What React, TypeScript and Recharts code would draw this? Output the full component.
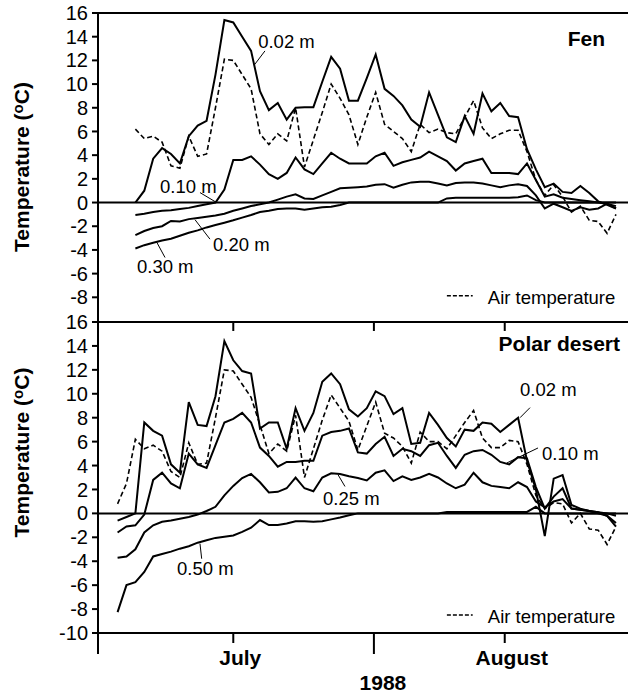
import { LineChart, Line, XAxis, YAxis, ReferenceLine, ReferenceDot } from "recharts";

const FONT = "'Liberation Sans', Arial, Helvetica, sans-serif";

// days since 1 July 1988
const days = [
  2, 3, 4, 5, 6, 7, 8, 9, 10, 11, 12, 13, 14, 15, 16, 17, 18, 19, 20, 21,
  22, 23, 24, 25, 26, 27, 28, 29, 30, 31, 32, 33, 34, 35, 36, 37, 38, 39, 40,
  41, 42, 43, 44, 45, 46, 47, 48, 49, 50, 51, 52, 53, 54, 55, 56, 57, 58,
];

// Fen
const fenAir = [
  null, null, 6.2, 5.4, 5.6, 5.1, 3.1, 2.9, 5.6, 3.9,
  4.1, 8.0, 12.1, 12.0, 10.8, 9.6, 5.8, 4.9, 5.8, 5.2,
  8.0, 3.0, 5.3, 7.6, 10.0, 8.8, 7.4, 4.9, 7.2, 9.3,
  6.6, 6.0, 5.4, 4.3, 6.6, 5.9, 6.2, 5.9, 5.8, 7.2,
  8.6, 6.3, 5.4, 5.8, 6.1, 6.1, 4.3, 1.9, 0.6, 1.5,
  0.5, -0.8, -0.3, -1.5, -1.6, -2.6, -1.0,
];
const fen002 = [
  null, null, 0.0, 1.0, 3.7, 4.6, 4.1, 3.3, 5.6, 6.5,
  6.9, 10.8, 15.4, 15.2, 14.0, 12.8, 9.4, 7.8, 8.4, 7.0,
  8.0, 8.05, 8.05, 10.2, 12.3, 11.3, 8.6, 8.6, 10.5, 12.5,
  9.6, 9.0, 8.2, 7.0, 6.4, 9.3, 7.4, 5.5, 5.1, 7.3,
  5.8, 9.2, 7.7, 8.4, 7.3, 7.2, 4.5, 2.8, 1.3, 1.6,
  0.9, 0.8, 1.4, 0.8, 0.1, -0.2, -0.5,
];
const fen010 = [
  null, null, -1.05, -0.95, -0.8, -0.7, -0.65, -0.55, -0.45, -0.3,
  -0.15, 0.0, 1.1, 3.6, 3.6, 3.9, 3.2, 2.4, 2.0, 2.5,
  3.8, 2.8, 2.4, 3.3, 4.2, 3.7, 3.3, 3.3, 3.3, 3.9,
  4.2, 3.1, 3.4, 3.6, 3.8, 4.3, 3.9, 3.5, 2.7, 3.3,
  3.5, 3.7, 2.5, 2.5, 2.5, 2.4, 3.3, 1.9, 0.5, 0.7,
  0.4, 0.3, 0.2, 0.1, 0.0, -0.1, -0.5,
];
const fen020 = [
  null, null, -2.75, -2.4, -2.15, -2.0, -1.55, -1.6, -1.4, -1.3,
  -1.2, -1.1, -0.95, -0.7, -0.5, -0.3, -0.15, 0.0, 0.25, 0.5,
  0.7, 0.35, 0.3, 0.6, 0.9, 1.2, 1.25, 1.3, 1.35, 1.5,
  1.55, 1.25, 1.5, 1.7, 1.75, 1.75, 1.6, 1.45, 1.65, 1.7,
  1.7, 1.6, 1.45, 1.3, 1.45, 1.55, 1.4, 0.6, -0.5, -0.1,
  -0.4, -0.7, -0.4, -0.6, -0.5, -0.1, -0.3,
];
const fen030 = [
  null, null, -3.88, -3.6, -3.4, -3.2, -3.05, -2.8, -2.55, -2.35,
  -2.1, -1.9, -1.7, -1.5, -1.27, -1.05, -0.8, -0.7, -0.55, -0.5,
  -0.5, -0.6, -0.5, -0.4, -0.35, -0.2, 0.0, 0.0, 0.0, 0.0,
  0.0, 0.0, 0.0, 0.0, 0.0, 0.0, 0.0, 0.35, 0.4, 0.4,
  0.4, 0.4, 0.4, 0.4, 0.4, 0.45, 0.6, 0.2, 0.0, 0.0,
  0.0, 0.0, 0.0, 0.0, 0.0, 0.0, 0.0,
];

// Polar desert
const pdAir = [
  0.8, 2.5, 6.2, 5.4, 5.7, 5.2, 3.5, 3.0, 5.9, 4.1,
  4.2, 8.0, 12.0, 11.9, 10.8, 9.7, 7.4, 5.0, 5.8, 5.2,
  8.2, 3.0, 5.4, 7.8, 9.9, 8.8, 7.7, 5.3, 7.3, 9.3,
  6.7, 6.3, 5.6, 4.2, 6.8, 6.0, 6.0, 5.4, 6.5, 7.6,
  8.6, 6.3, 5.5, 5.5, 6.1, 6.0, 4.1, 1.5, 0.4, 0.9,
  0.8, -0.8, 0.0, -1.3, -1.4, -2.6, -1.1,
];
const pd002 = [
  -0.6, -0.3, 0.0, 7.6, 6.9, 6.5, 4.1, 3.4, 9.3, 7.4,
  7.3, 9.8, 14.4, 12.8, 11.9, 11.7, 7.1, 7.6, 7.6, 5.4,
  8.8, 6.9, 8.4, 11.0, 11.7, 10.8, 8.7, 8.1, 8.8, 10.2,
  9.8, 8.3, 8.8, 5.8, 5.9, 8.4, 7.4, 6.3, 5.6, 7.0,
  6.9, 7.6, 7.5, 6.8, 7.4, 8.0, 4.4, 2.0, -1.9, 2.9,
  3.2, 0.7, 0.4, 0.2, 0.1, -0.2, -1.1,
];
const pd010 = [
  -1.6, -1.1, -1.0, -0.1, 2.8, 3.4, 2.5, 2.1, 5.0, 4.1,
  3.8, 5.7, 7.6, 7.9, 8.4, 7.6, 5.5, 4.8, 3.9, 4.3,
  4.3, 4.4, 4.4, 6.5, 6.8, 6.9, 7.1, 5.1, 5.0, 5.8,
  6.4, 4.8, 5.4, 5.2, 4.8, 5.7, 5.9, 4.8, 3.8, 4.9,
  5.2, 5.3, 4.9, 4.3, 4.1, 4.7, 4.6, 2.2, 0.4, 1.4,
  2.1, 0.4, 0.3, 0.2, 0.0, -0.2, -0.8,
];
const pd025 = [
  -3.7, -3.6, -3.0, -1.6, -1.0, -0.7, -0.6, -0.45, -0.3, -0.1,
  0.2, 0.55, 1.5, 2.3, 2.95, 3.3, 2.6, 1.75, 1.8, 2.1,
  3.0, 2.1, 1.85, 3.0, 3.35, 3.3, 3.1, 2.95, 2.75, 3.4,
  3.6, 2.7, 3.1, 2.8, 3.0, 3.3, 3.0, 2.5, 2.1, 2.4,
  3.4, 2.6, 2.3, 2.2, 2.1, 2.6, 2.2, 1.0, 0.5, 1.0,
  1.2, 0.4, 0.3, 0.2, 0.1, 0.0, -0.2,
];
const pd050 = [
  -8.25, -6.0, -5.75, -4.9, -3.6, -3.4, -3.2, -2.95, -2.75, -2.45,
  -2.25, -2.05, -1.95, -1.85, -1.55, -1.2, -0.56, -0.98, -0.98, -0.85,
  -0.65, -0.65, -0.7, -0.65, -0.5, -0.35, -0.15, 0.0, 0.0, 0.0,
  0.0, 0.0, 0.0, 0.0, 0.0, 0.0, 0.0, 0.12, 0.12, 0.12,
  0.12, 0.12, 0.12, 0.12, 0.12, 0.12, 0.12, 0.55, 0.0, 0.0,
  0.0, 0.0, 0.0, 0.0, 0.0, 0.0, 0.0,
];

const fenTicks = [-8, -6, -4, -2, 0, 2, 4, 6, 8, 10, 12, 14, 16];
const pdTicks = [-10, -8, -6, -4, -2, 0, 2, 4, 6, 8, 10, 12, 14, 16];
const xDomain = [-0.2, 59.35];
// month boundaries (long ticks) and mid-month ticks
const monthTicks = [-0.2, 15, 30.8, 45.5];
const monthLabels = ["", "July", "", "August"];

const fenRows = days.map((day, i) => ({
  day, air: fenAir[i], d002: fen002[i], d010: fen010[i], d020: fen020[i], d030: fen030[i],
}));
const pdRows = days.map((day, i) => ({
  day, air: pdAir[i], d002: pd002[i], d010: pd010[i], d025: pd025[i], d050: pd050[i],
}));

type Note = { text: string; x: number; y: number; from: [number, number]; to: [number, number] };

const fenNotes: Note[] = [
  { text: "0.02 m", x: 17.8, y: 13.05, from: [18.56, 12.8], to: [17.35, 11.6] },
  { text: "0.10 m", x: 6.77, y: 0.82, from: [11.26, 0.84], to: [13.13, 0] },
  { text: "0.20 m", x: 12.72, y: -4.08, from: [12.38, -3.09], to: [10.7, -1.45] },
  { text: "0.30 m", x: 4.18, y: -5.93, from: [7.33, -4.64], to: [6.4, -3.35] },
];
const pdNotes: Note[] = [
  { text: "0.02 m", x: 47.22, y: 9.82, from: [48.34, 8.84], to: [47.22, 8.0] },
  { text: "0.10 m", x: 49.69, y: 4.5, from: [49.24, 5.47], to: [45.72, 4.21] },
  { text: "0.25 m", x: 25.08, y: 0.73, from: [27.55, 2.25], to: [26.77, 3.23] },
  { text: "0.50 m", x: 8.68, y: -5.11, from: [11.45, -3.79], to: [11.26, -2.53] },
];

const textShape = (label: string, anchor: string, size: number, bold = false) => (p: any) => (
  <text
    x={p.cx}
    y={p.cy}
    textAnchor={anchor as any}
    fontSize={size}
    fontWeight={bold ? 700 : 400}
    fontFamily={FONT}
    fill="#000"
  >
    {label}
  </text>
);

const YTitle = (props: any) => {
  const vb = props.viewBox || { x: 0, y: 0, width: 98, height: 300 };
  const x = vb.x + 28.5;
  const y = vb.y + vb.height / 2 + (props.shift || 0);
  return (
    <text
      x={x}
      y={y}
      transform={`rotate(-90, ${x}, ${y})`}
      textAnchor="middle"
      fontSize={21}
      fontWeight={700}
      fontFamily={FONT}
      fill="#000"
    >
      Temperature (<tspan dy={-6} fontSize={15}>o</tspan>
      <tspan dy={6}>C)</tspan>
    </text>
  );
};

const MonthTick = (props: any) => {
  const { x, y, payload } = props;
  const i = monthTicks.indexOf(payload.value);
  const long = i === 0 || i === 2;
  return (
    <g>
      <line x1={x} y1={y} x2={x} y2={y + (long ? 21 : 10)} stroke="#000" strokeWidth={2} />
      {monthLabels[i] ? (
        <text x={x + 7} y={y + 32} textAnchor="middle" fontSize={21} fontWeight={700} fontFamily={FONT} fill="#000">
          {monthLabels[i]}
        </text>
      ) : null}
      {i === 2 ? (
        <text x={x + 9} y={y + 57} textAnchor="middle" fontSize={21} fontWeight={700} fontFamily={FONT} fill="#000">
          1988
        </text>
      ) : null}
    </g>
  );
};

const yTick = { fontSize: 20, fill: "#000", fontFamily: FONT };

const notesFor = (notes: Note[]) =>
  notes.flatMap((n) => [
    <ReferenceLine
      key={n.text + "-p"}
      segment={[{ x: n.from[0], y: n.from[1] }, { x: n.to[0], y: n.to[1] }]}
      stroke="#000"
      strokeWidth={1}
    />,
    <ReferenceDot key={n.text + "-t"} x={n.x} y={n.y} r={0} shape={textShape(n.text, "start", 18.5)} />,
  ]);

const legendFor = (lineY: number, textY: number) => [
  <ReferenceLine
    key="leg-l"
    segment={[{ x: 39.0, y: lineY }, { x: 41.9, y: lineY }]}
    stroke="#000"
    strokeWidth={1.5}
    strokeDasharray="4 2"
  />,
  <ReferenceDot key="leg-t" x={43.6} y={textY} r={0} shape={textShape("Air temperature", "start", 18.5)} />,
];

export default function App() {
  return (
    <div style={{ position: "absolute", left: 0, top: 0, width: 628, height: 698, background: "#fff" }}>
      <div style={{ position: "absolute", left: 0, top: 0 }}>
        <LineChart width={628} height={322} data={fenRows} margin={{ top: 13, right: 0, bottom: 1, left: 0 }}>
          <XAxis dataKey="day" type="number" domain={xDomain} hide />
          <YAxis
            type="number"
            domain={[-10, 16]}
            ticks={fenTicks}
            interval={0}
            width={98}
            tick={yTick}
            tickSize={6}
            tickMargin={4}
            axisLine={{ stroke: "#000", strokeWidth: 2 }}
            tickLine={{ stroke: "#000", strokeWidth: 2 }}
            label={<YTitle />}
          />
          <ReferenceLine y={16} stroke="#000" strokeWidth={2} />
          <ReferenceLine y={0} stroke="#000" strokeWidth={2} />
          <Line dataKey="air" stroke="#000" strokeWidth={1.6} strokeDasharray="5 3" dot={false} isAnimationActive={false} />
          <Line dataKey="d002" stroke="#000" strokeWidth={2} dot={false} isAnimationActive={false} />
          <Line dataKey="d010" stroke="#000" strokeWidth={2} dot={false} isAnimationActive={false} />
          <Line dataKey="d020" stroke="#000" strokeWidth={2} dot={false} isAnimationActive={false} />
          <Line dataKey="d030" stroke="#000" strokeWidth={2} dot={false} isAnimationActive={false} />
          {notesFor(fenNotes)}
          <ReferenceDot x={56.77} y={13.22} r={0} shape={textShape("Fen", "end", 21, true)} />
          {legendFor(-7.87, -8.55)}
        </LineChart>
      </div>
      <div style={{ position: "absolute", left: 0, top: 309 }}>
        <LineChart width={628} height={389} data={pdRows} margin={{ top: 13, right: 0, bottom: 0, left: 0 }}>
          <XAxis
            dataKey="day"
            type="number"
            domain={xDomain}
            ticks={monthTicks}
            interval={0}
            height={65}
            tickSize={0}
            tickMargin={0}
            tickLine={false}
            tick={<MonthTick />}
            axisLine={{ stroke: "#000", strokeWidth: 2 }}
          />
          <YAxis
            type="number"
            domain={[-10, 16]}
            ticks={pdTicks}
            interval={0}
            width={98}
            tick={yTick}
            tickSize={6}
            tickMargin={4}
            axisLine={{ stroke: "#000", strokeWidth: 2 }}
            tickLine={{ stroke: "#000", strokeWidth: 2 }}
            label={<YTitle shift={-25} />}
          />
          <ReferenceLine y={16} stroke="#000" strokeWidth={2} />
          <ReferenceLine y={0} stroke="#000" strokeWidth={2} />
          {monthTicks.slice(1).map((t) => (
            <ReferenceLine key={"in" + t} segment={[{ x: t, y: 16 }, { x: t, y: 15.25 }]} stroke="#000" strokeWidth={2} />
          ))}
          <Line dataKey="air" stroke="#000" strokeWidth={1.6} strokeDasharray="5 3" dot={false} isAnimationActive={false} />
          <Line dataKey="d002" stroke="#000" strokeWidth={2} dot={false} isAnimationActive={false} />
          <Line dataKey="d010" stroke="#000" strokeWidth={2} dot={false} isAnimationActive={false} />
          <Line dataKey="d025" stroke="#000" strokeWidth={2} dot={false} isAnimationActive={false} />
          <Line dataKey="d050" stroke="#000" strokeWidth={2} dot={false} isAnimationActive={false} />
          {notesFor(pdNotes)}
          <ReferenceDot x={58.45} y={13.61} r={0} shape={textShape("Polar desert", "end", 21, true)} />
          {legendFor(-8.5, -9.2)}
        </LineChart>
      </div>
    </div>
  );
}
